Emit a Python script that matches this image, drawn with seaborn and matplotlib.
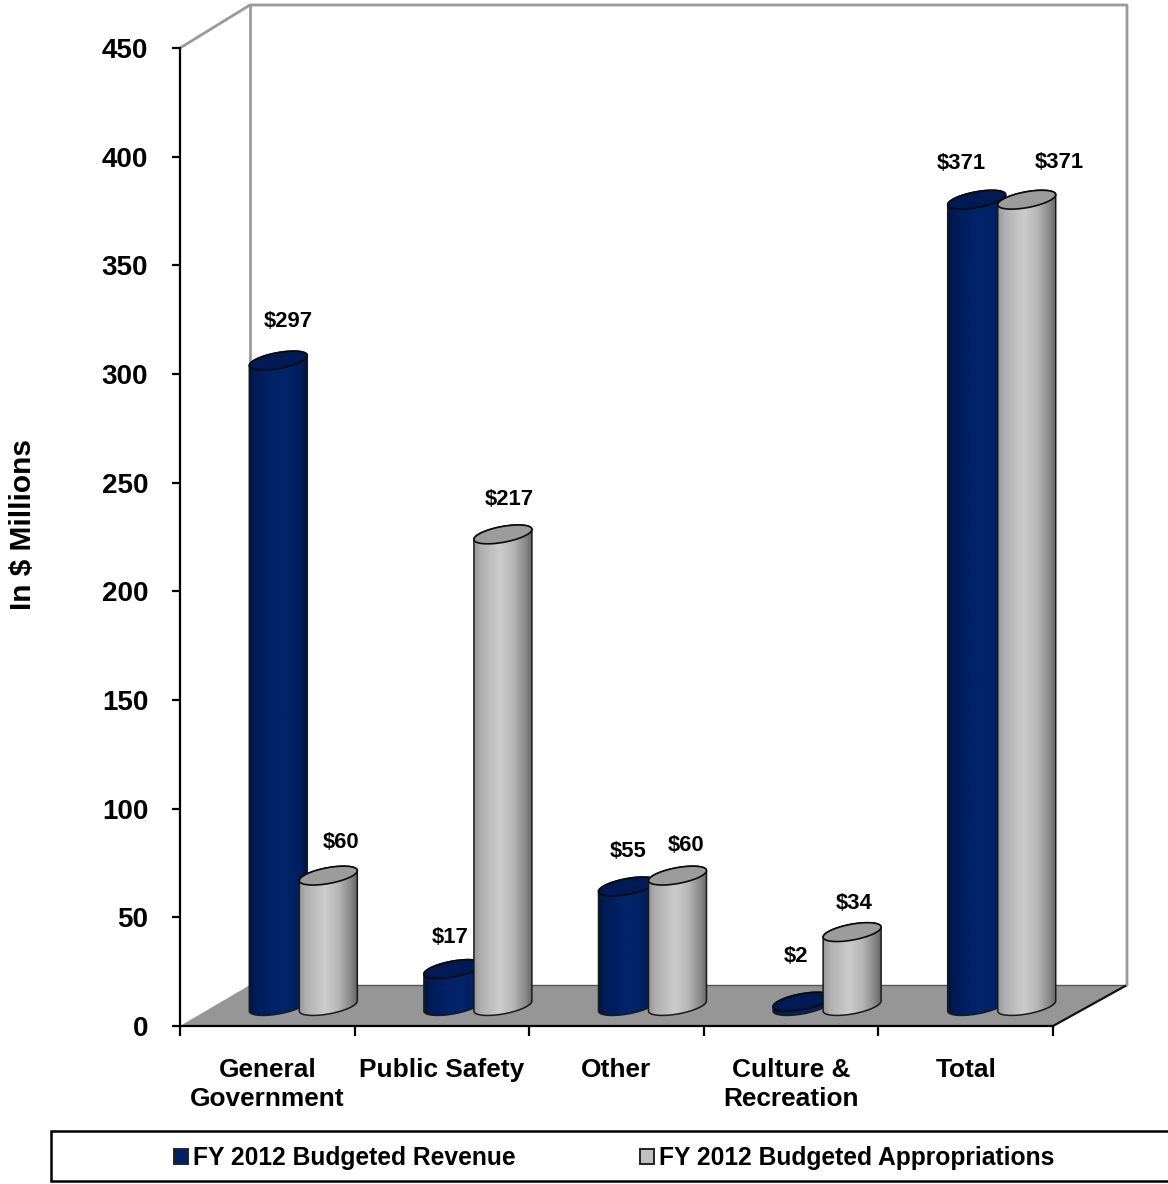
import numpy as np
import pandas as pd
import matplotlib
matplotlib.use("Agg")
import matplotlib.pyplot as plt
from matplotlib.patches import Polygon, PathPatch, Patch, Rectangle
from matplotlib.lines import Line2D
from matplotlib.path import Path
from matplotlib.colors import to_rgb
import seaborn as sns

# Budget figures, in millions of dollars
categories = ["General\nGovernment", "Public Safety", "Other", "Culture &\nRecreation", "Total"]
series_names = ["FY 2012 Budgeted Revenue", "FY 2012 Budgeted Appropriations"]
revenue = [297, 17, 55, 2, 371]
appropriations = [60, 217, 60, 34, 371]
y_ticks = [0, 50, 100, 150, 200, 250, 300, 350, 400, 450]

# Hand-placed value label nudges in pixels (dx, dy upward)
revenue_nudge = [(10, 39), (-3, 32), (1, 35), (-6, 45), (-15, 36)]
appropriations_nudge = [(13, 33), (6, 35), (9, 30), (2, 29), (33, 37)]

# Shading across a cylinder, left to right
navy_stops = ["#00143f", "#001c58", "#00236a", "#00236a", "#001d5c", "#00133e"]
gray_stops = ["#989898", "#b0b0b0", "#cccccc", "#b6b6b6", "#868686", "#666666"]
stop_pos = [0.0, 0.12, 0.45, 0.68, 0.9, 1.0]
cap_colors = ["#001a55", "#9c9c9c"]
legend_colors = ["#002060", "#c0c0c0"]
body_colors = ["#00236a", "#c4c4c4"]

W, H = 1168, 1184
sns.set_style("white")
plt.rcParams["font.family"] = ["Liberation Sans", "DejaVu Sans"]
plt.rcParams["font.weight"] = "bold"
plt.rcParams["text.color"] = "black"
plt.rcParams["axes.labelcolor"] = "black"
plt.rcParams["xtick.color"] = "black"
plt.rcParams["ytick.color"] = "black"

fig = plt.figure(figsize=(W / 100, H / 100), dpi=100, facecolor="white")


def box(left, top, right, bottom):
    return [left / W, 1 - bottom / H, (right - left) / W, (bottom - top) / H]


# Pixel-addressed layer behind everything for the chart's walls and floor
back = fig.add_axes([0, 0, 1, 1], zorder=0)
back.set_xlim(0, W)
back.set_ylim(H, 0)
back.axis("off")
back.add_patch(Polygon([(180, 1026), (250, 985), (1127, 985), (1053, 1026)],
                       closed=True, facecolor="#969696", edgecolor="none"))
back.add_line(Line2D([250, 1127], [985, 985], color="#555555", lw=1))
back.add_line(Line2D([1053, 1127], [1026, 985], color="#111111", lw=1.6))
wall = dict(color="#9a9a9a", lw=2.0, solid_capstyle="round")
back.add_line(Line2D([180, 250, 1127, 1127], [48, 5, 5, 985], **wall))
back.add_line(Line2D([250, 250], [5, 985], **wall))

# Front axes: carries the ticks and labels
ax = fig.add_axes(box(180, 48, 1053, 1026), zorder=1)
ax.patch.set_alpha(0)
ax.set_xlim(-0.5, 4.5)
ax.set_ylim(0, 450)
sns.despine(ax=ax)
for side in ("left", "bottom"):
    ax.spines[side].set_color("black")
    ax.spines[side].set_linewidth(1.6)
ax.set_yticks(y_ticks)
ax.set_xticks(np.arange(-0.5, 5, 1))
ax.set_xticklabels([])
ax.set_xticks(np.arange(5), labels=categories, minor=True)
ax.tick_params(axis="y", direction="out", length=5.8, width=1.6, color="black",
               labelsize=20, pad=17, left=True, labelcolor="black")
ax.tick_params(axis="x", which="major", direction="out", length=7.5, width=1.6,
               color="black", bottom=True)
ax.tick_params(axis="x", which="minor", length=0, labelsize=18.9, pad=23, labelcolor="black")
for lab in ax.get_xticklabels(minor=True):
    lab.set_linespacing(1.25)
ax.set_ylabel("In $ Millions", fontsize=21.5, fontweight="bold", color="black")
ax.yaxis.set_label_coords((37 - 180) / 873, (1026 - 524) / 978)

# Bars sit on a plane set back from the front axes
ax_bars = fig.add_axes(box(216, 28, 1089, 1006), zorder=2)
df = pd.DataFrame({
    "Category": categories * 2,
    "Series": [series_names[0]] * 5 + [series_names[1]] * 5,
    "Value": revenue + appropriations,
})
sns.barplot(data=df, x="Category", y="Value", hue="Series", order=categories,
            hue_order=series_names, palette=body_colors, width=0.573, saturation=1,
            legend=False, ax=ax_bars)
ax_bars.set_xlim(-0.5, 4.5)
ax_bars.set_ylim(0, 450)
ax_bars.patch.set_alpha(0)
for s in ax_bars.spines.values():
    s.set_visible(False)
ax_bars.set_xticks([])
ax_bars.set_yticks([])
ax_bars.set_xlabel("")
ax_bars.set_ylabel("")

# Top layer in pixel coordinates for the rounded cylinder shading
top = fig.add_axes([0, 0, 1, 1], zorder=3)
top.set_xlim(0, W)
top.set_ylim(H, 0)
top.axis("off")

TILT = 0.172   # vertical rise of a cap per unit of horizontal run
MINOR = 8.0    # half-height of a cap


def to_px(x, y):
    return top.transData.inverted().transform(ax_bars.transData.transform((x, y)))


def arc(cx, cy, a, start, stop, n=60):
    t = np.linspace(start, stop, n)
    return np.column_stack([cx + a * np.cos(t),
                            cy - TILT * a * np.cos(t) + MINOR * np.sin(t)])


def ramp(stops):
    samples = np.linspace(0, 1, 256)
    rgb = np.array([to_rgb(c) for c in stops])
    return np.stack([np.interp(samples, stop_pos, rgb[:, i]) for i in range(3)], axis=-1)[None, :, :]


BAR_WIDTH = 58 / (873 / 5)
for s, (container, stops, values, nudges) in enumerate(zip(
        ax_bars.containers, (navy_stops, gray_stops), (revenue, appropriations),
        (revenue_nudge, appropriations_nudge))):
    grad = ramp(stops)
    for rect, value, nudge in zip(container, values, nudges):
        centre = rect.get_x() + rect.get_width() / 2
        rect.set_x(centre - BAR_WIDTH / 2)
        rect.set_width(BAR_WIDTH)
        (xl, ybase) = to_px(centre - BAR_WIDTH / 2, 0)
        (xr, ytop) = to_px(centre + BAR_WIDTH / 2, value)
        cx, a = (xl + xr) / 2, (xr - xl) / 2

        # Body outline: upper rim, right side, lower rim, left side
        upper = arc(cx, ytop, a, np.pi, 2 * np.pi)
        lower = arc(cx, ybase, a, 0, np.pi)
        outline = Path(np.vstack([upper, lower, upper[:1]]), closed=False)
        body = PathPatch(outline, facecolor="none", edgecolor="#1a1a1a", lw=1.1,
                         zorder=10 * s + 2, joinstyle="round")
        top.add_patch(body)
        rect.set_clip_path(outline, top.transData)
        im = top.imshow(grad, extent=(xl, xr, ybase + 20, ytop - 20), aspect="auto",
                        interpolation="bilinear", zorder=10 * s + 1)
        im.set_clip_path(outline, top.transData)

        cap = Polygon(arc(cx, ytop, a, 0, 2 * np.pi, 90), closed=True,
                      facecolor=cap_colors[s], edgecolor="#0a0a0a", lw=1.2,
                      zorder=10 * s + 3)
        top.add_patch(cap)

        ax_bars.annotate(f"${value}", xy=(centre, value), xytext=nudge,
                         textcoords="offset pixels", ha="center", va="center",
                         fontsize=15.9, fontweight="bold", color="black",
                         annotation_clip=False)

top.set_xlim(0, W)
top.set_ylim(H, 0)

# Legend strip running off the right edge
top.add_patch(Rectangle((51, 1131), W, 50, facecolor="white", edgecolor="black",
                        lw=1.8, clip_on=True, zorder=40))
handles = [Patch(facecolor=legend_colors[0], edgecolor="#222222", lw=1.4),
           Patch(facecolor=legend_colors[1], edgecolor="#222222", lw=1.4)]
fig.legend(handles, series_names, ncol=2, loc="center left",
           bbox_to_anchor=(174 / W, 1 - 1158 / H), frameon=False, fontsize=17.7,
           handlelength=0.58, handleheight=0.58, handletextpad=0.2,
           columnspacing=5.05, borderpad=0, borderaxespad=0, labelcolor="black")

fig.savefig("out.png", dpi=100, facecolor="white")
